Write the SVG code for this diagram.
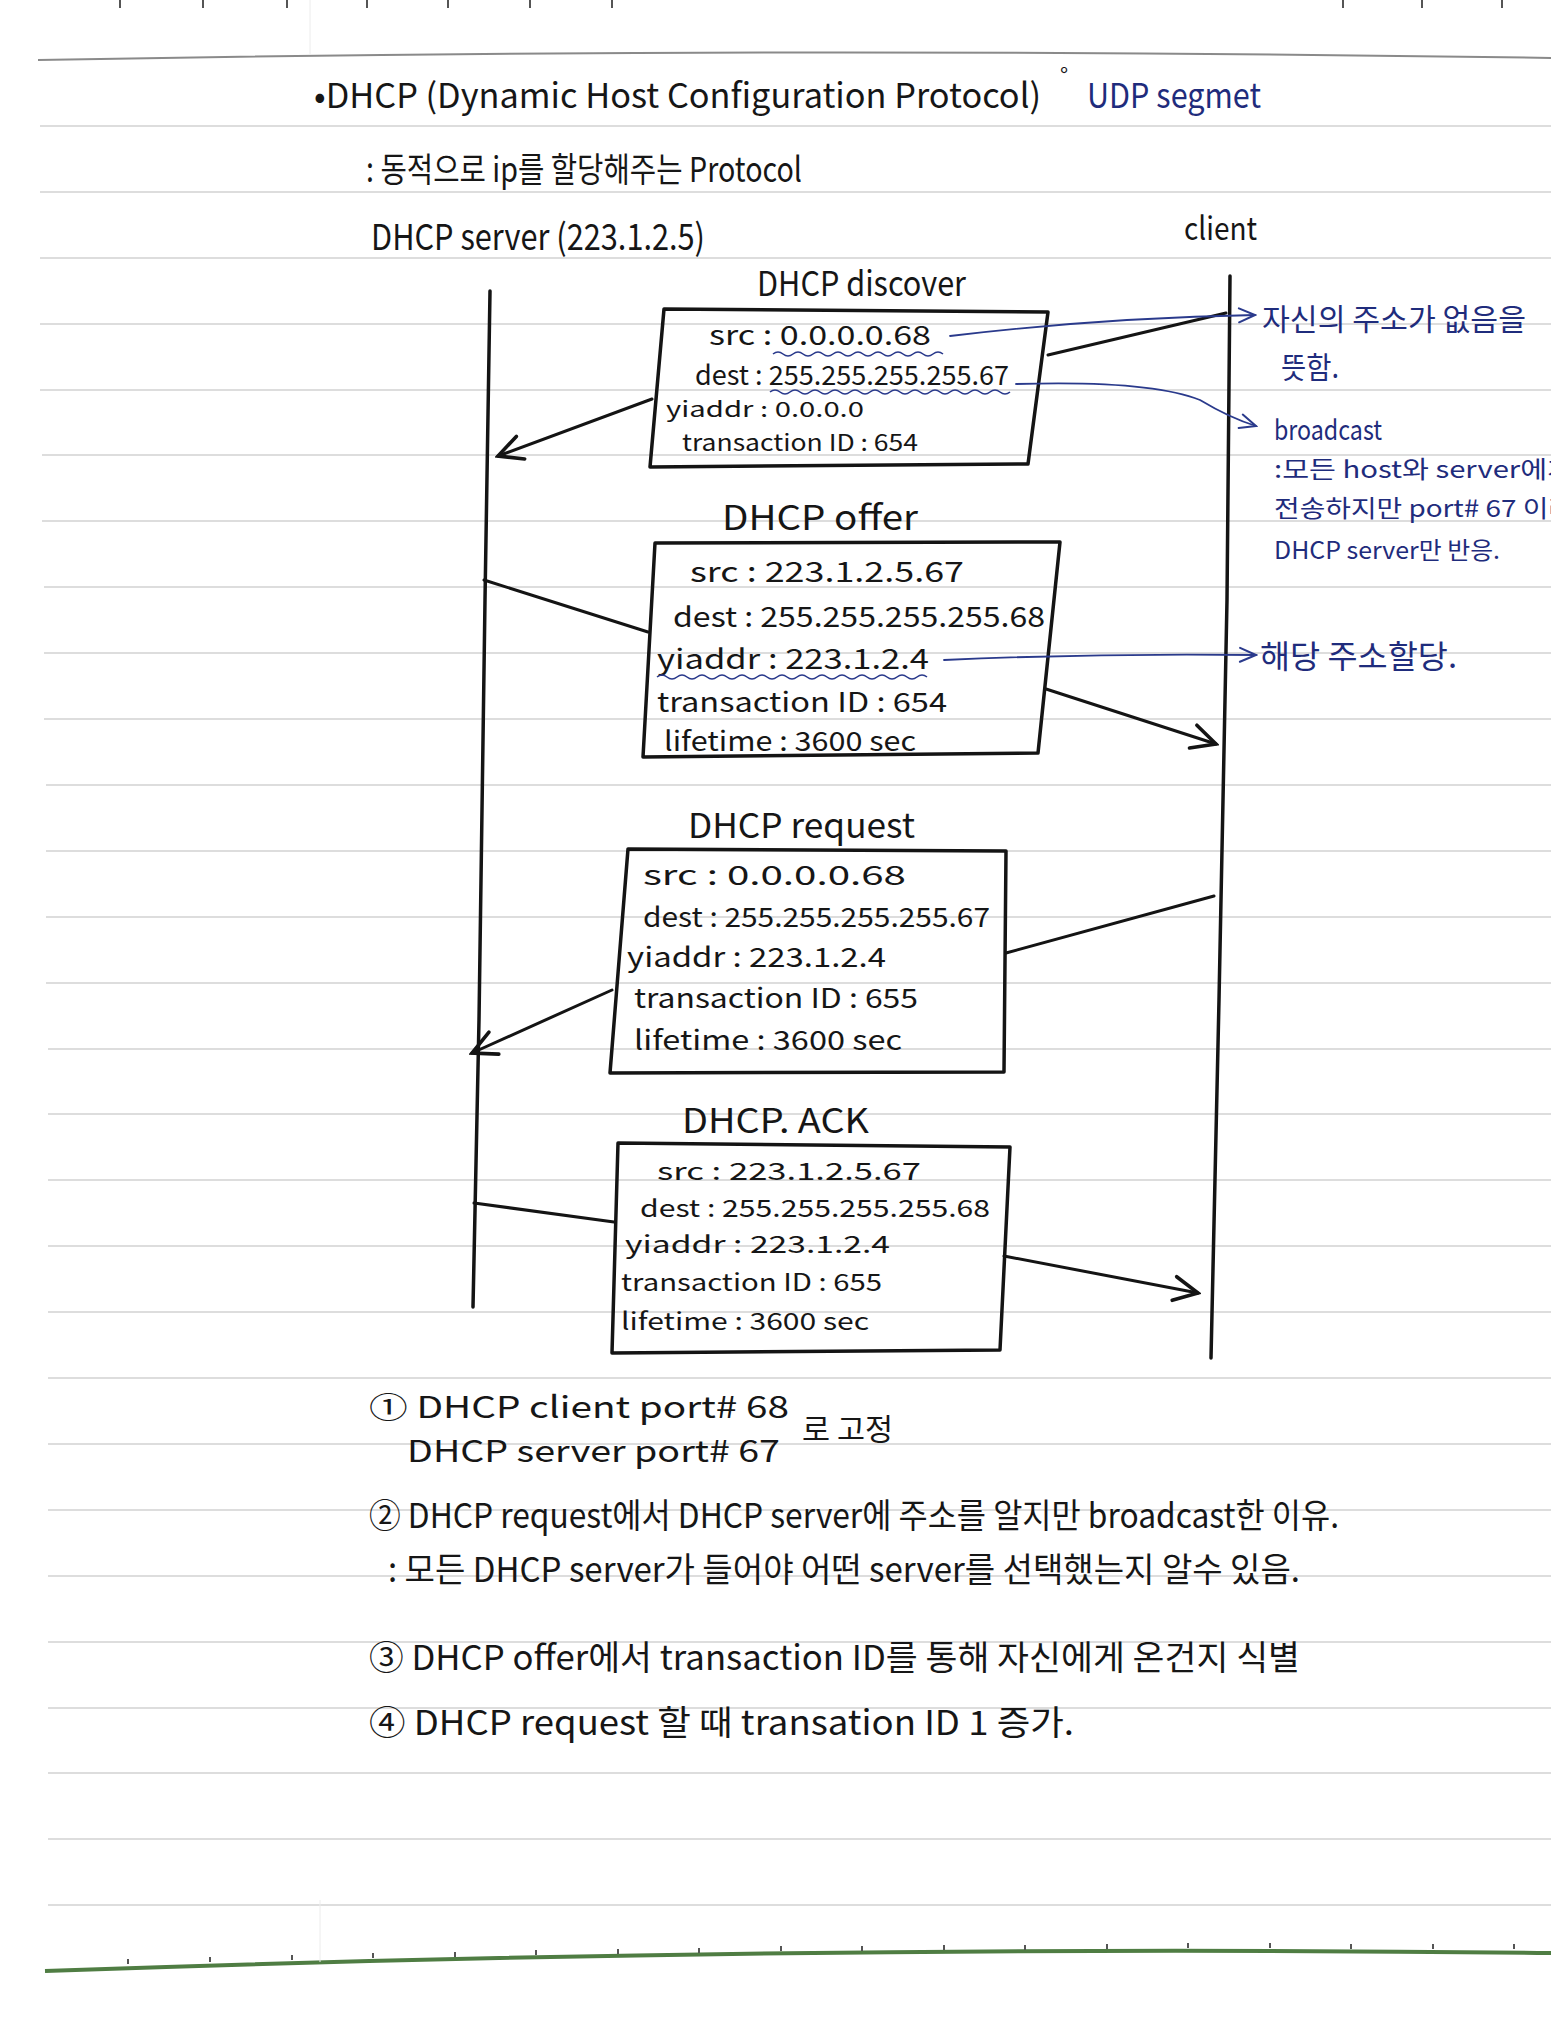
<svg xmlns="http://www.w3.org/2000/svg" width="1551" height="2028" viewBox="0 0 1551 2028">
<style>
text{font-family:"Noto Sans CJK KR","Noto Sans",sans-serif}
.k{fill:#161616}
.b{fill:#1f2c7c}
.box{fill:none;stroke:#141414;stroke-width:3.5;stroke-linejoin:round}
.life{fill:none;stroke:#141414;stroke-width:3.5;stroke-linecap:round}
.conn{fill:none;stroke:#141414;stroke-width:3;stroke-linecap:round}
.blue{fill:none;stroke:#2a3a8c;stroke-width:1.8;stroke-linecap:round}
.wave{fill:none;stroke:#2a3a8c;stroke-width:1.6}
.rule{stroke:#d2d2d2;stroke-width:1.5}
.tick{stroke:#555;stroke-width:2}
</style>
<defs>
<marker id="chev" viewBox="0 0 20 20" refX="18" refY="10" markerWidth="30" markerHeight="30" markerUnits="userSpaceOnUse" orient="auto">
<path d="M2,2 L18,10 L2,18" fill="none" stroke="#141414" stroke-width="2.4" stroke-linecap="round"/>
</marker>
<marker id="chevB" viewBox="0 0 20 20" refX="18" refY="10" markerWidth="20" markerHeight="20" markerUnits="userSpaceOnUse" orient="auto">
<path d="M2,3 L18,10 L2,17" fill="none" stroke="#2a3a8c" stroke-width="2" stroke-linecap="round"/>
</marker>
</defs>
<rect width="1551" height="2028" fill="#ffffff"/>
<g id="paper">
<path d="M38,60 Q775,46 1551,58" fill="none" stroke="#8a8a8a" stroke-width="2"/>
<g class="rule">
<line x1="40" y1="126" x2="1551" y2="126"/><line x1="40" y1="192" x2="1551" y2="192"/>
<line x1="40" y1="258" x2="1551" y2="258"/><line x1="40" y1="324" x2="1551" y2="324"/>
<line x1="40" y1="390" x2="1551" y2="390"/><line x1="42" y1="455" x2="1551" y2="455"/>
<line x1="42" y1="521" x2="1551" y2="521"/><line x1="44" y1="587" x2="1551" y2="587"/>
<line x1="44" y1="653" x2="1551" y2="653"/><line x1="44" y1="719" x2="1551" y2="719"/>
<line x1="46" y1="785" x2="1551" y2="785"/><line x1="46" y1="851" x2="1551" y2="851"/>
<line x1="46" y1="917" x2="1551" y2="917"/><line x1="46" y1="983" x2="1551" y2="983"/>
<line x1="48" y1="1049" x2="1551" y2="1049"/><line x1="48" y1="1114" x2="1551" y2="1114"/>
<line x1="48" y1="1180" x2="1551" y2="1180"/><line x1="48" y1="1246" x2="1551" y2="1246"/>
<line x1="48" y1="1312" x2="1551" y2="1312"/><line x1="48" y1="1378" x2="1551" y2="1378"/>
<line x1="48" y1="1444" x2="1551" y2="1444"/><line x1="48" y1="1510" x2="1551" y2="1510"/>
<line x1="48" y1="1576" x2="1551" y2="1576"/><line x1="48" y1="1642" x2="1551" y2="1642"/>
<line x1="48" y1="1708" x2="1551" y2="1708"/><line x1="48" y1="1773" x2="1551" y2="1773"/>
<line x1="48" y1="1839" x2="1551" y2="1839"/><line x1="48" y1="1905" x2="1551" y2="1905"/>
</g>
<path d="M45,1971 Q800,1944 1551,1953" fill="none" stroke="#4f7d43" stroke-width="4"/>
<line x1="310" y1="0" x2="310" y2="55" stroke="#ececec" stroke-width="1"/>
<line x1="320" y1="1900" x2="320" y2="1962" stroke="#ececec" stroke-width="1"/>
<g class="tick">
<line x1="120" y1="0" x2="120" y2="8"/><line x1="203" y1="0" x2="203" y2="8"/><line x1="287" y1="0" x2="287" y2="8"/>
<line x1="367" y1="0" x2="367" y2="8"/><line x1="448" y1="0" x2="448" y2="8"/><line x1="530" y1="0" x2="530" y2="8"/>
<line x1="612" y1="0" x2="612" y2="8"/><line x1="1343" y1="0" x2="1343" y2="8"/><line x1="1422" y1="0" x2="1422" y2="8"/>
<line x1="1502" y1="0" x2="1502" y2="8"/>
<line x1="128" y1="1959" x2="128" y2="1964"/><line x1="210" y1="1957" x2="210" y2="1962"/><line x1="292" y1="1955" x2="292" y2="1960"/>
<line x1="373" y1="1953" x2="373" y2="1958"/><line x1="455" y1="1952" x2="455" y2="1957"/><line x1="536" y1="1950" x2="536" y2="1955"/>
<line x1="618" y1="1949" x2="618" y2="1954"/><line x1="699" y1="1948" x2="699" y2="1953"/><line x1="781" y1="1946" x2="781" y2="1951"/>
<line x1="862" y1="1946" x2="862" y2="1951"/><line x1="944" y1="1945" x2="944" y2="1950"/><line x1="1025" y1="1945" x2="1025" y2="1950"/>
<line x1="1107" y1="1944" x2="1107" y2="1949"/><line x1="1188" y1="1943" x2="1188" y2="1948"/><line x1="1270" y1="1943" x2="1270" y2="1948"/>
<line x1="1351" y1="1944" x2="1351" y2="1949"/><line x1="1433" y1="1944" x2="1433" y2="1949"/><line x1="1514" y1="1944" x2="1514" y2="1949"/>
</g>
</g>
<g id="heading">
<text class="k" x="314" y="108" font-size="34" textLength="727" lengthAdjust="spacingAndGlyphs">•DHCP (Dynamic Host Configuration Protocol)</text>
<text class="k" x="1060" y="84" font-size="22">°</text>
<text class="b" x="1087" y="108" font-size="34" textLength="174" lengthAdjust="spacingAndGlyphs">UDP segmet</text>
<text class="k" x="366" y="182" font-size="34" textLength="436" lengthAdjust="spacingAndGlyphs">: 동적으로 ip를 할당해주는 Protocol</text>
</g>
<g id="node-server">
<text class="k" x="371" y="250" font-size="36" textLength="334" lengthAdjust="spacingAndGlyphs">DHCP server (223.1.2.5)</text>
<path class="life" d="M490,291 L485,600 L479,1020 L473,1307"/>
</g>
<g id="node-client">
<text class="k" x="1184" y="240" font-size="32" textLength="73" lengthAdjust="spacingAndGlyphs">client</text>
<path class="life" d="M1230,276 L1227,600 L1219,1000 L1211,1358"/>
</g>
<g id="node-discover">
<text class="k" x="757" y="296" font-size="34" textLength="209" lengthAdjust="spacingAndGlyphs">DHCP discover</text>
<path class="box" d="M664,309 L1048,312 L1028,464 L650,467 Z"/>
<text class="k" x="709" y="345" font-size="27" textLength="222" lengthAdjust="spacingAndGlyphs">src : 0.0.0.0.68</text>
<text class="k" x="695" y="385" font-size="27" textLength="314" lengthAdjust="spacingAndGlyphs">dest : 255.255.255.255.67</text>
<text class="k" x="666" y="417" font-size="21" textLength="198" lengthAdjust="spacingAndGlyphs">yiaddr : 0.0.0.0</text>
<text class="k" x="682" y="451" font-size="23" textLength="236" lengthAdjust="spacingAndGlyphs">transaction ID : 654</text>
<path class="wave" d="M773,354 q5,-4 10,0 t10,0 t10,0 t10,0 t10,0 t10,0 t10,0 t10,0 t10,0 t10,0 t10,0 t10,0 t10,0 t10,0 t10,0 t10,0 t10,0"/>
<path class="wave" d="M770,392 q5,-4 10,0 t10,0 t10,0 t10,0 t10,0 t10,0 t10,0 t10,0 t10,0 t10,0 t10,0 t10,0 t10,0 t10,0 t10,0 t10,0 t10,0 t10,0 t10,0 t10,0 t10,0 t10,0 t10,0 t10,0"/>
</g>
<g id="node-offer">
<text class="k" x="722" y="530" font-size="34" textLength="196" lengthAdjust="spacingAndGlyphs">DHCP offer</text>
<path class="box" d="M655,543 L1060,542 L1038,753 L643,757 Z"/>
<text class="k" x="690" y="582" font-size="28" textLength="274" lengthAdjust="spacingAndGlyphs">src : 223.1.2.5.67</text>
<text class="k" x="673" y="627" font-size="28" textLength="372" lengthAdjust="spacingAndGlyphs">dest : 255.255.255.255.68</text>
<text class="k" x="657" y="669" font-size="28" textLength="272" lengthAdjust="spacingAndGlyphs">yiaddr : 223.1.2.4</text>
<text class="k" x="657" y="712" font-size="27" textLength="290" lengthAdjust="spacingAndGlyphs">transaction ID : 654</text>
<text class="k" x="664" y="751" font-size="27" textLength="252" lengthAdjust="spacingAndGlyphs">lifetime : 3600 sec</text>
<path class="wave" d="M657,677 q5,-4 10,0 t10,0 t10,0 t10,0 t10,0 t10,0 t10,0 t10,0 t10,0 t10,0 t10,0 t10,0 t10,0 t10,0 t10,0 t10,0 t10,0 t10,0 t10,0 t10,0 t10,0 t10,0 t10,0 t10,0 t10,0 t10,0 t10,0"/>
</g>
<g id="node-request">
<text class="k" x="688" y="838" font-size="34" textLength="227" lengthAdjust="spacingAndGlyphs">DHCP request</text>
<path class="box" d="M628,849 L1006,851 L1004,1072 L610,1073 Z"/>
<text class="k" x="643" y="885" font-size="27" textLength="263" lengthAdjust="spacingAndGlyphs">src : 0.0.0.0.68</text>
<text class="k" x="643" y="927" font-size="27" textLength="347" lengthAdjust="spacingAndGlyphs">dest : 255.255.255.255.67</text>
<text class="k" x="627" y="967" font-size="27" textLength="259" lengthAdjust="spacingAndGlyphs">yiaddr : 223.1.2.4</text>
<text class="k" x="634" y="1008" font-size="27" textLength="284" lengthAdjust="spacingAndGlyphs">transaction ID : 655</text>
<text class="k" x="634" y="1050" font-size="27" textLength="268" lengthAdjust="spacingAndGlyphs">lifetime : 3600 sec</text>
</g>
<g id="node-ack">
<text class="k" x="682" y="1133" font-size="34" textLength="187" lengthAdjust="spacingAndGlyphs">DHCP. ACK</text>
<path class="box" d="M618,1143 L1010,1147 L1000,1350 L612,1353 Z"/>
<text class="k" x="657" y="1180" font-size="24" textLength="264" lengthAdjust="spacingAndGlyphs">src : 223.1.2.5.67</text>
<text class="k" x="640" y="1217" font-size="24" textLength="350" lengthAdjust="spacingAndGlyphs">dest : 255.255.255.255.68</text>
<text class="k" x="625" y="1253" font-size="24" textLength="265" lengthAdjust="spacingAndGlyphs">yiaddr : 223.1.2.4</text>
<text class="k" x="621" y="1291" font-size="24" textLength="261" lengthAdjust="spacingAndGlyphs">transaction ID : 655</text>
<text class="k" x="621" y="1330" font-size="24" textLength="248" lengthAdjust="spacingAndGlyphs">lifetime : 3600 sec</text>
</g>
<g id="node-annotations">
<text class="b" x="1262" y="330" font-size="30" textLength="264" lengthAdjust="spacingAndGlyphs">자신의 주소가 없음을</text>
<text class="b" x="1281" y="378" font-size="30" textLength="58" lengthAdjust="spacingAndGlyphs">뜻함.</text>
<text class="b" x="1274" y="440" font-size="28" textLength="108" lengthAdjust="spacingAndGlyphs">broadcast</text>
<text class="b" x="1274" y="478" font-size="24" textLength="300" lengthAdjust="spacingAndGlyphs">:모든 host와 server에게</text>
<text class="b" x="1274" y="517" font-size="24" textLength="300" lengthAdjust="spacingAndGlyphs">전송하지만 port# 67 이라</text>
<text class="b" x="1274" y="559" font-size="24" textLength="226" lengthAdjust="spacingAndGlyphs">DHCP server만 반응.</text>
<text class="b" x="1260" y="668" font-size="32" textLength="197" lengthAdjust="spacingAndGlyphs">해당 주소할당.</text>
</g>
<g id="connectors">
<path class="conn" d="M1226,313 L1048,355 M652,399 L498,456" marker-end="url(#chev)"/>
<path class="conn" d="M484,580 L648,632 M1046,689 L1216,744" marker-end="url(#chev)"/>
<path class="conn" d="M1214,896 L1006,953 M612,990 L472,1053" marker-end="url(#chev)"/>
<path class="conn" d="M474,1203 L614,1222 M1004,1256 L1198,1293" marker-end="url(#chev)"/>
<path class="blue" d="M950,336 Q1100,318 1255,315" marker-end="url(#chevB)"/>
<path class="blue" d="M1016,384 Q1150,380 1200,400 Q1230,418 1256,426" marker-end="url(#chevB)"/>
<path class="blue" d="M944,660 Q1100,653 1256,655" marker-end="url(#chevB)"/>
</g>
<g id="notes">
<text class="k" x="369" y="1418" font-size="30" textLength="420" lengthAdjust="spacingAndGlyphs">① DHCP client port# 68</text>
<text class="k" x="407" y="1462" font-size="30" textLength="373" lengthAdjust="spacingAndGlyphs">DHCP server port# 67</text>
<text class="k" x="802" y="1440" font-size="30" textLength="91" lengthAdjust="spacingAndGlyphs">로 고정</text>
<text class="k" x="369" y="1528" font-size="34" textLength="970" lengthAdjust="spacingAndGlyphs">② DHCP request에서 DHCP server에 주소를 알지만 broadcast한 이유.</text>
<text class="k" x="388" y="1582" font-size="34" textLength="912" lengthAdjust="spacingAndGlyphs">: 모든 DHCP server가 들어야 어떤 server를 선택했는지 알수 있음.</text>
<text class="k" x="369" y="1670" font-size="34" textLength="931" lengthAdjust="spacingAndGlyphs">③ DHCP offer에서 transaction ID를 통해 자신에게 온건지 식별</text>
<text class="k" x="369" y="1735" font-size="34" textLength="705" lengthAdjust="spacingAndGlyphs">④ DHCP request 할 때 transation ID 1 증가.</text>
</g>
</svg>
